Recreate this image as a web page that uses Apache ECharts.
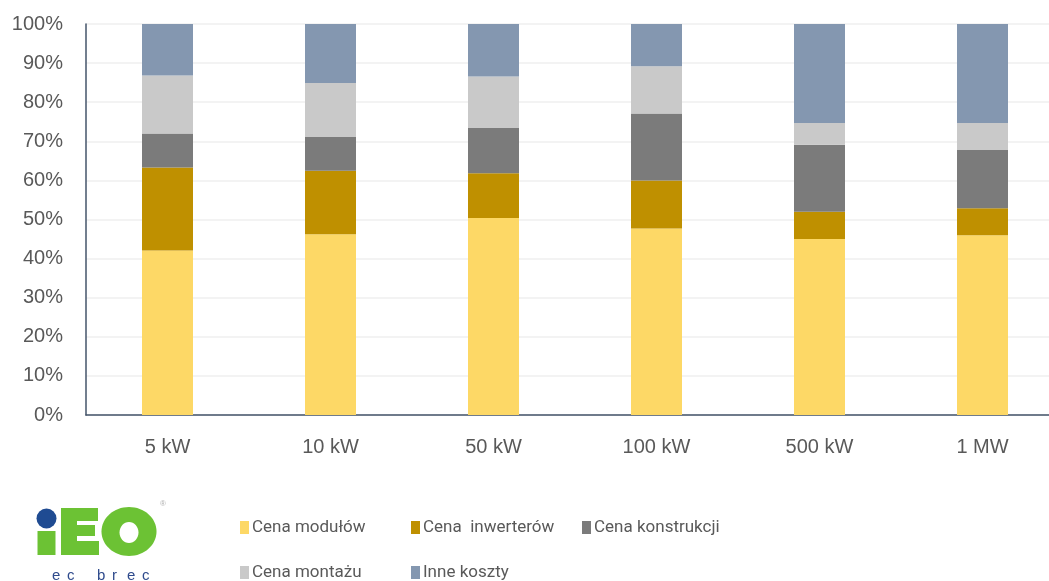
<!DOCTYPE html>
<html>
<head>
<meta charset="utf-8">
<script src="https://cdn.jsdelivr.net/npm/echarts@6/dist/echarts.min.js"></script>
<style>
  html, body { margin: 0; padding: 0; background: #ffffff; overflow: hidden; }
  /* plot area runs slightly past the right edge of the window */
  #chart { width: 1064px; height: 581px; }
</style>
</head>
<body>
<div id="chart"></div>
<script>
// Installation size classes
const categories = ['5 kW', '10 kW', '50 kW', '100 kW', '500 kW', '1 MW'];

// Cost shares (% of total) per size class
const cenaModulow      = [42.1, 46.2, 50.4, 47.7, 45.0, 46.0];
const cenaInwerterow   = [21.2, 16.3, 11.4, 12.3, 7.0, 6.9];
const cenaKonstrukcji  = [8.7, 8.6, 11.6, 17.1, 17.1, 14.9];
const cenaMontazu      = [14.8, 13.8, 13.2, 12.1, 5.6, 6.9];
const inneKoszty       = [13.2, 15.1, 13.4, 10.8, 25.3, 25.3];

const seriesNames = ['Cena modułów', 'Cena  inwerterów', 'Cena konstrukcji', 'Cena montażu', 'Inne koszty'];
const seriesData = [cenaModulow, cenaInwerterow, cenaKonstrukcji, cenaMontazu, inneKoszty];
const seriesColors = ['#FDD866', '#BF9000', '#7B7B7B', '#C9C9C9', '#8497B0'];

const textColor = '#595959';
const legendFont = "Roboto, 'Liberation Sans', sans-serif";

// One legend block per entry so the entries sit in fixed columns
const legendSlots = [
  { left: 240, top: 519 },
  { left: 411, top: 519 },
  { left: 582, top: 519 },
  { left: 240, top: 564 },
  { left: 411, top: 564 }
];
const legends = seriesNames.map((name, i) => ({
  data: [name],
  left: legendSlots[i].left,
  top: legendSlots[i].top,
  padding: 0,
  icon: 'rect',
  itemWidth: 9,
  itemHeight: 13,
  itemGap: 0,
  textStyle: { color: textColor, fontSize: 17, fontFamily: legendFont, padding: [0, 0, 0, -2] }
}));

// Logo: "iEO" mark with the "ec brec" caption
const green = '#6CC234';
const navy = '#1F4B92';
const captionLetters = ['e', 'c', '', 'b', 'r', 'e', 'c'];
const logo = [
  { type: 'circle', shape: { cx: 46.5, cy: 518.5, r: 10 }, style: { fill: navy } },
  { type: 'rect', shape: { x: 37.5, y: 531, width: 18, height: 24 }, style: { fill: green } },
  // E
  { type: 'rect', shape: { x: 61, y: 508, width: 16, height: 47 }, style: { fill: green } },
  { type: 'rect', shape: { x: 61, y: 508, width: 37, height: 13 }, style: { fill: green } },
  { type: 'rect', shape: { x: 61, y: 525, width: 34, height: 11 }, style: { fill: green } },
  { type: 'rect', shape: { x: 61, y: 541, width: 38, height: 14 }, style: { fill: green } },
  // O
  { type: 'ellipse', shape: { cx: 129, cy: 531.5, rx: 27.5, ry: 24.5 }, style: { fill: green } },
  { type: 'ellipse', shape: { cx: 129, cy: 532.5, rx: 9.5, ry: 10.5 }, style: { fill: '#ffffff' } },
  { type: 'text', x: 160, y: 500, style: { text: '®', fontSize: 8, fill: '#B0B0B0' } }
].concat(captionLetters.map((ch, i) => ({
  type: 'text', x: 52 + i * 15, y: 568,
  style: { text: ch, fontSize: 15, fill: '#2E4A8C', fontFamily: "'Liberation Sans', sans-serif" }
})));

const chart = echarts.init(document.getElementById('chart'), null, { renderer: 'canvas' });
chart.setOption({
  animation: false,
  backgroundColor: '#ffffff',
  textStyle: { fontFamily: "'Liberation Sans', sans-serif" },
  grid: { left: 86, top: 24, width: 978, height: 391, containLabel: false },
  legend: legends,
  graphic: logo,
  xAxis: {
    type: 'category',
    data: categories,
    axisLine: { show: true, lineStyle: { color: '#44546A', width: 1.5 } },
    axisTick: { show: false },
    axisLabel: { color: textColor, fontSize: 20, margin: 22 }
  },
  yAxis: {
    type: 'value',
    min: 0,
    max: 100,
    interval: 10,
    axisLine: { show: true, lineStyle: { color: '#44546A', width: 1.5 } },
    axisTick: { show: false },
    splitLine: { lineStyle: { color: '#EFEFEF', width: 1.5 } },
    axisLabel: { color: textColor, fontSize: 20, margin: 23, formatter: '{value}%' }
  },
  series: seriesNames.map((name, i) => ({
    name: name,
    type: 'bar',
    stack: 'koszty',
    barWidth: 51,
    data: seriesData[i],
    itemStyle: { color: seriesColors[i] }
  }))
});
</script>
</body>
</html>
